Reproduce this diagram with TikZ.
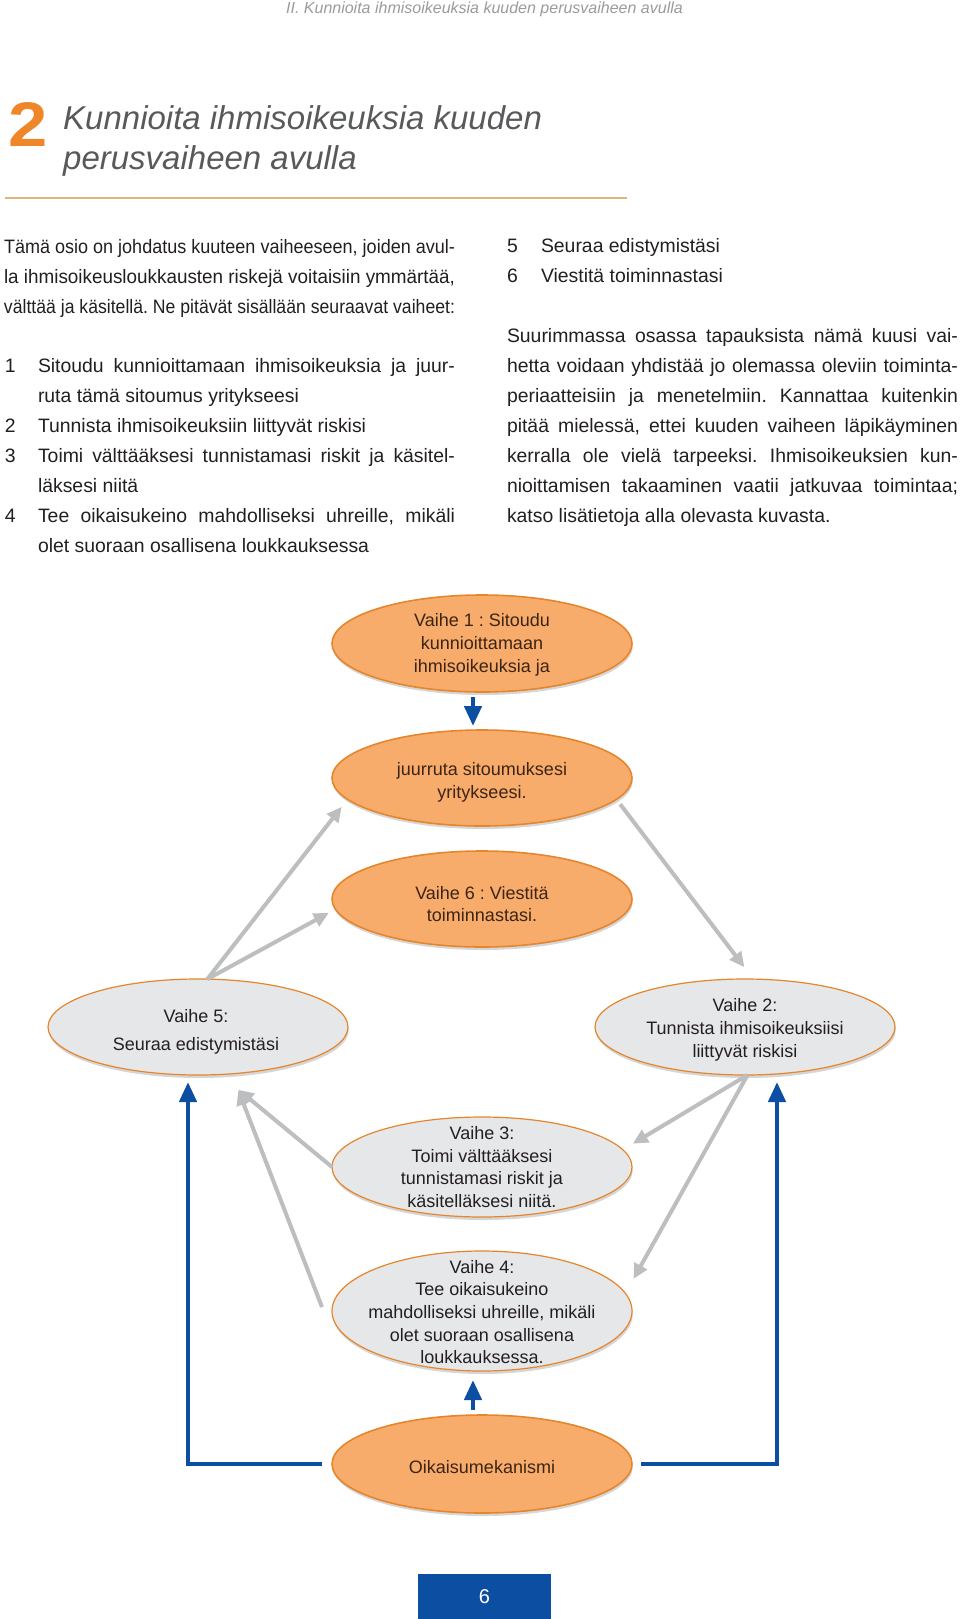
\documentclass[tikz,border=0pt]{standalone}
\usepackage{fontspec}
\setmainfont{Liberation Sans}
\usepackage{graphicx}
\usetikzlibrary{arrows.meta,shapes.geometric,shadows}
\frenchspacing
\definecolor{orfill}{HTML}{F8AC6B}
\definecolor{ordraw}{HTML}{E5862D}
\definecolor{gyfill}{HTML}{E6E7E8}
\definecolor{arrgray}{HTML}{BDBEC0}
\definecolor{blu}{HTML}{0B4EA2}
\definecolor{titlegray}{HTML}{58595B}
\definecolor{headgray}{HTML}{9B9B9B}
\definecolor{numorange}{HTML}{F0862A}
\definecolor{rulecol}{HTML}{E2B57E}
\definecolor{txt}{HTML}{231F20}
\definecolor{brn}{HTML}{3C2415}
\newlength\colw
\newsavebox\lnbox
\newcommand\jl[2]{\setlength\colw{#1}\sbox\lnbox{#2}\ifdim\wd\lnbox>\colw\resizebox{\colw}{\ht\lnbox}{\usebox\lnbox}\else\makebox[\colw][s]{#2}\fi}
\tikzset{
 body/.style={inner sep=0pt, outer sep=0pt, anchor=base west, font=\fontsize{19.4}{23}\selectfont, text=txt},
 ell/.style={ellipse, minimum width=300pt, minimum height=96pt, inner sep=0pt, outer sep=0pt},
 softshadow/.style={drop shadow={shadow xshift=0.8pt, shadow yshift=-3pt, opacity=0.16, fill=black}},
 orell/.style={ell, fill=orfill, draw=ordraw, line width=1.6pt, softshadow},
 gyell/.style={ell, fill=gyfill, draw=ordraw, line width=1.2pt, softshadow},
 etxt/.style={align=center, inner sep=0pt, font=\fontsize{18}{22.7}\selectfont},
 garrow/.style={draw=arrgray, line width=4pt, -{Triangle[length=15pt,width=14pt]}},
 barrow/.style={draw=blu, line width=4.5pt, -{Triangle[length=20pt,width=17pt]}},
}
\begin{document}
\begin{tikzpicture}[x=1pt,y=-1pt]
\useasboundingbox (0,0) rectangle (960,1619);
\fill[white] (0,0) rectangle (960,1619);
% header
\node[inner sep=0pt, anchor=base, font=\fontsize{16}{19}\selectfont\itshape, text=headgray] (hdr) at (484.5,14) {II. Kunnioita ihmisoikeuksia kuuden perusvaiheen avulla};
% title
\node[inner sep=0pt, anchor=base west, font=\fontsize{63}{63}\selectfont\bfseries, text=numorange] (tnum) at (8,146) {\scalebox{1.12}[1]{2}};
\node[inner sep=0pt, anchor=base west, font=\fontsize{33}{40}\selectfont\itshape, text=titlegray] (ttl1) at (63,129) {Kunnioita ihmisoikeuksia kuuden};
\node[inner sep=0pt, anchor=base west, font=\fontsize{33}{40}\selectfont\itshape, text=titlegray] (ttl2) at (63,169) {perusvaiheen avulla};
\draw[rulecol, line width=2pt] (5,198) -- (627,198);
% left column
\node[body] (p1) at (4,253) {\jl{451pt}{Tämä osio on johdatus kuuteen vaiheeseen, joiden avul-}};
\node[body] (p2) at (4,283) {\jl{451pt}{la ihmisoikeusloukkausten riskejä voitaisiin ymmärtää,}};
\node[body] (p3) at (4,313) {\jl{451pt}{välttää ja käsitellä. Ne pitävät sisällään seuraavat vaiheet:}};
\node[body] (n1) at (5,372) {1};
\node[body] (i1a) at (38,372) {\jl{417pt}{Sitoudu kunnioittamaan ihmisoikeuksia ja juur-}};
\node[body] (i1b) at (38,402) {ruta tämä sitoumus yritykseesi};
\node[body] (n2) at (5,432) {2};
\node[body] (i2) at (38,432) {Tunnista ihmisoikeuksiin liittyvät riskisi};
\node[body] (n3) at (5,462) {3};
\node[body] (i3a) at (38,462) {\jl{417pt}{Toimi välttääksesi tunnistamasi riskit ja käsitel-}};
\node[body] (i3b) at (38,492) {läksesi niitä};
\node[body] (n4) at (5,522) {4};
\node[body] (i4a) at (38,522) {\jl{417pt}{Tee oikaisukeino mahdolliseksi uhreille, mikäli}};
\node[body] (i4b) at (38,552) {olet suoraan osallisena loukkauksessa};
% right column
\node[body] (n5) at (507,252) {5};
\node[body] (i5) at (541,252) {Seuraa edistymistäsi};
\node[body] (n6) at (507,282) {6};
\node[body] (i6) at (541,282) {Viestitä toiminnastasi};
\node[body] (r1) at (507,342) {\jl{451pt}{Suurimmassa osassa tapauksista nämä kuusi vai-}};
\node[body] (r2) at (507,372) {\jl{451pt}{hetta voidaan yhdistää jo olemassa oleviin toiminta-}};
\node[body] (r3) at (507,402) {\jl{451pt}{periaatteisiin ja menetelmiin. Kannattaa kuitenkin}};
\node[body] (r4) at (507,432) {\jl{451pt}{pitää mielessä, ettei kuuden vaiheen läpikäyminen}};
\node[body] (r5) at (507,462) {\jl{451pt}{kerralla ole vielä tarpeeksi. Ihmisoikeuksien kun-}};
\node[body] (r6) at (507,492) {\jl{451pt}{nioittamisen takaaminen vaatii jatkuvaa toimintaa;}};
\node[body] (r7) at (507,522) {katso lisätietoja alla olevasta kuvasta.};
% diagram ellipses
\node[orell, minimum height=97pt] (v1) at (482,643.5) {};
\node[orell] (v1b) at (482,778) {};
\node[orell] (v6) at (482,899) {};
\node[gyell] (v5) at (198,1027) {};
\node[gyell] (v2) at (745,1027) {};
\node[gyell, minimum height=100pt] (v3) at (482,1167) {};
\node[gyell, minimum height=120pt] (v4) at (482,1311) {};
\node[orell, minimum height=98pt] (oik) at (482,1464) {};
% texts
\node[etxt, text=brn] (v1t) at (482,645) {Vaihe 1 : Sitoudu\\kunnioittamaan\\ihmisoikeuksia ja};
\node[etxt, text=brn] (v1bt) at (482,782) {juurruta sitoumuksesi\\yritykseesi.};
\node[etxt, text=brn] (v6t) at (482,904) {Vaihe 6 : Viestitä\\toiminnastasi.};
\node[etxt, text=txt, font=\fontsize{18}{28.5}\selectfont] (v5t) at (196,1032) {Vaihe 5:\\Seuraa edistymistäsi};
\node[etxt, text=txt] (v2t) at (745,1030) {Vaihe 2:\\Tunnista ihmisoikeuksiisi\\liittyvät riskisi};
\node[etxt, text=txt] (v3t) at (482,1167) {Vaihe 3:\\Toimi välttääksesi\\tunnistamasi riskit ja\\käsitelläksesi niitä.};
\node[etxt, text=txt] (v4t) at (482,1312) {Vaihe 4:\\Tee oikaisukeino\\mahdolliseksi uhreille, mikäli\\olet suoraan osallisena\\loukkauksessa.};
\node[etxt, text=brn] (oikt) at (482,1467) {Oikaisumekanismi};
% gray arrows
\draw[garrow, shorten >=9.5pt] (v5.79.4) -- (v1b.189.1);
\draw[garrow, shorten >=7.6pt] (v5.79.4) -- (v6.184.1);
\draw[garrow, shorten <=6.2pt, shorten >=15pt] (v1b.351.65) -- (v2.80.5);
\draw[garrow, shorten >=11.75pt] (v2.273.2) -- (v3.7.36);
\draw[garrow, shorten >=16.6pt] (v2.273.2) -- (v4.7.9);
\draw[garrow, shorten >=24pt] (v3.west) -- (v5.295.5);
\draw[garrow, shorten >=17.5pt] ([xshift=-10pt,yshift=4pt]v4.west) -- (v5.306.7);
% blue arrows
\draw[barrow] ([xshift=-9pt,yshift=-5pt]v1.south) -- ([xshift=-9pt,yshift=4pt]v1b.north);
\draw[barrow] ([xshift=-9pt,yshift=5pt]oik.north) -- ([xshift=-9pt,yshift=-9pt]v4.south);
\draw[barrow, shorten <=10pt, shorten >=7pt] (oik.west) -| ([xshift=-10pt]v5.south);
\draw[barrow, shorten <=9pt, shorten >=7pt] (oik.east) -| ([xshift=32pt]v2.south);
% page number
\node[fill=blu, minimum width=133pt, minimum height=45pt, inner sep=0pt, text=white, font=\fontsize{20}{24}\selectfont] (pg) at (484.5,1596.5) {6};
\end{tikzpicture}
\end{document}
